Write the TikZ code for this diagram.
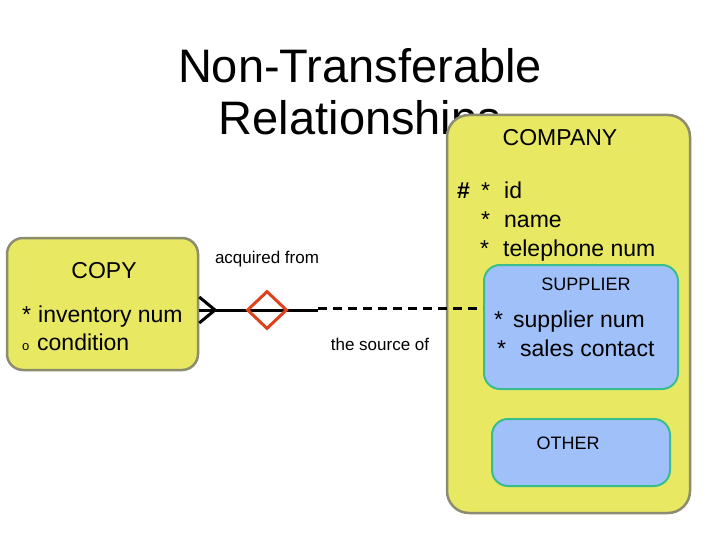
\documentclass[tikz,border=0pt]{standalone}
\usepackage{fontspec}
\setmainfont{Liberation Sans}
\usetikzlibrary{shapes.geometric}
\definecolor{entyel}{RGB}{232,232,98}
\definecolor{entedge}{RGB}{140,140,112}
\definecolor{subblue}{RGB}{160,192,250}
\definecolor{subedge}{RGB}{56,190,140}
\definecolor{relred}{RGB}{222,66,28}
\tikzset{
  entity/.style={draw=entedge, fill=entyel, line width=2.5pt, rounded corners=22pt, inner sep=0pt},
  subtype/.style={draw=subedge, fill=subblue, line width=2pt, rounded corners=16pt, inner sep=0pt},
  txt/.style={inner sep=0pt, anchor=base west},
  rel/.style={line width=3pt, black},
  lbl/.style={inner sep=0pt, anchor=base, font=\fontsize{17}{20}\selectfont}
}
\begin{document}
\begin{tikzpicture}[x=1pt,y=-1pt]
\useasboundingbox (0,0) rectangle (720,540);
% title
\node[inner sep=0pt, anchor=base, font=\fontsize{47}{54}\selectfont] (t1) at (360,83) {Non-Transferable};
\node[inner sep=0pt, anchor=base, font=\fontsize{47}{54}\selectfont] (t2) at (360,135) {Relationships};
% company
\node[entity, minimum width=243pt, minimum height=398pt] (company) at (568.5,314) {};
\node[inner sep=0pt, anchor=base, font=\fontsize{23}{26}\selectfont] (ctitle) at (560,146) {COMPANY};
\begin{scope}[every node/.style={txt, font=\fontsize{23}{26}\selectfont}]
\node (hash) at (457,199) {\textbf{\#}};
\node (s1) at (481,199) {*};
\node (a1) at (504,199) {id};
\node (s2) at (481,227) {*};
\node (a2) at (504,227) {name};
\node (s3) at (480,256) {*};
\node (a3) at (503,256) {telephone num};
\end{scope}
% supplier
\node[subtype, minimum width=194pt, minimum height=124pt] (supplier) at (581,327) {};
\node[inner sep=0pt, anchor=base, font=\fontsize{18}{21}\selectfont] (stitle) at (586,290) {SUPPLIER};
\begin{scope}[every node/.style={txt, font=\fontsize{23}{26}\selectfont}]
\node (s4) at (494,327) {*};
\node (a4) at (513,327) {supplier num};
\node (s5) at (497,356) {*};
\node (a5) at (520,356) {sales contact};
\end{scope}
% other
\node[subtype, minimum width=178pt, minimum height=67pt] (other) at (581,452.5) {};
\node[inner sep=0pt, anchor=base, font=\fontsize{18}{21}\selectfont] (otitle) at (568,449) {OTHER};
% copy
\node[entity, rounded corners=16pt, minimum width=191pt, minimum height=132pt] (copy) at (102.5,304) {};
\node[inner sep=0pt, anchor=base, font=\fontsize{23}{26}\selectfont] (cotitle) at (104,278) {COPY};
\begin{scope}[every node/.style={txt, font=\fontsize{23}{26}\selectfont}]
\node (s6) at (22,322) {*};
\node (a6) at (38,322) {inventory num};
\node[font=\fontsize{13}{15}\selectfont] (o7) at (22,350) {o};
\node (a7) at (37,350) {condition};
\end{scope}
% relationship
\coordinate (cv) at (215,310);
\coordinate (mid) at (318,310);
\coordinate (midd) at (318,308);
\draw[rel] (copy.east |- 0,297) -- (cv) -- (copy.east |- 0,323);
\draw[rel] (copy.east |- cv) -- (mid);
\draw[rel, dash pattern=on 9pt off 6pt] (midd) -- (supplier.west |- midd);
\node[diamond, draw=relred, line width=3pt, minimum width=40pt, minimum height=38pt, inner sep=0pt] (dia) at (267,310) {};
\node[lbl] (l1) at (267,263) {acquired from};
\node[lbl] (l2) at (380,350) {the source of};
\end{tikzpicture}
\end{document}
